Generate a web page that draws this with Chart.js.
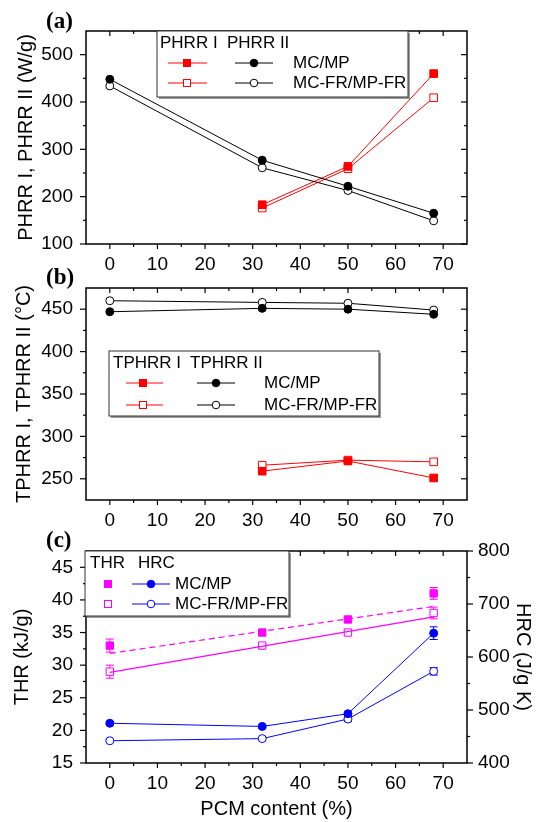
<!DOCTYPE html>
<html>
<head>
<meta charset="utf-8">
<script src="https://cdn.jsdelivr.net/npm/chart.js@4.4.1/dist/chart.umd.min.js"></script>
<style>
  body { margin: 0; background: #fff; }
  #wrap { position: relative; width: 545px; height: 822px; background: #fff; }
  canvas { position: absolute; left: 0; }
</style>
</head>
<body>
<div id="wrap">
  <canvas id="chartA" width="545" height="280" style="top:0px"></canvas>
  <canvas id="chartB" width="545" height="278" style="top:262px"></canvas>
  <canvas id="chartC" width="545" height="297" style="top:525px"></canvas>
</div>
<script>
// PCM content (%) - shared x values
var pcm = [0, 32, 50, 68];
var xTicks = [0, 10, 20, 30, 40, 50, 60, 70];

// (a) peak heat release rate (W/g)
var phrr1MC = [null, 183, 264, 460];
var phrr1FR = [null, 176, 259, 409];
var phrr2MC = [448, 277, 222, 165];
var phrr2FR = [434, 261, 213, 149];
var yTicksA = [100, 200, 300, 400, 500];

// (b) temperature at PHRR (C)
var tphrr1MC = [null, 259, 271, 251];
var tphrr1FR = [null, 266, 272, 270];
var tphrr2MC = [447, 451, 450, 444];
var tphrr2FR = [460, 458, 457, 449];
var yTicksB = [250, 300, 350, 400, 450];

// (c) THR (kJ/g) and HRC (J/g K)
var thrMC = [33, 35, 37, 41];
var thrMCErr = [1.0, 0.3, 0.3, 0.9];
var thrFR = [29, 33, 35, 38];
var thrFRErr = [1.0, 0.3, 0.3, 0.9];
var thrFitX = [0, 68];
var thrFitMC = [31.8, 39.0];
var thrFitFR = [28.9, 37.4];
var hrcMC = [475, 469, 493, 645];
var hrcMCErr = [3, 3, 3, 12];
var hrcFR = [442, 446, 483, 573];
var hrcFRErr = [2, 3, 5, 7];
var yTicksC = [15, 20, 25, 30, 35, 40, 45];
var yTicksC2 = [400, 500, 600, 700, 800];

var SANS = "'Liberation Sans', Arial, sans-serif";
var tickFont = { family: SANS, size: 19 };
var titleFont = { family: SANS, size: 20 };

function pts(xs, ys) {
    return xs.map(function(x, i) { return { x: x, y: ys[i] }; });
}
function mids(arr) {
    return arr.slice(1).map(function(v, i) { return (v + arr[i]) / 2; });
}

// box frame with Origin-style major/minor ticks
var framePlugin = {
    id: 'frame',
    afterDatasetsDraw(chart, args, o) {
        const { ctx, chartArea: a, scales } = chart;
        ctx.save();
        ctx.strokeStyle = '#000';
        function ticks(scale, vals, len, horiz, pos) {
            vals.forEach(function(v) {
                const p = scale.getPixelForValue(v);
                ctx.beginPath();
                if (horiz) { ctx.moveTo(p, pos); ctx.lineTo(p, pos + len); }
                else { ctx.moveTo(pos, p); ctx.lineTo(pos + len, p); }
                ctx.stroke();
            });
        }
        ctx.lineWidth = 1.2;
        const x = scales.x, y = scales.y;
        const xMin = mids(xTicks);
        ticks(x, xTicks, 5, true, a.bottom);
        ticks(x, xMin, 3, true, a.bottom);
        ticks(x, xTicks, 5, true, a.top);
        ticks(x, xMin, 3, true, a.top);
        ticks(y, o.yTicks, -6, false, a.left);
        ticks(y, mids(o.yTicks), -3, false, a.left);
        if (o.y2Ticks) {
            ticks(scales.y1, o.y2Ticks, 6, false, a.right);
            ticks(scales.y1, mids(o.y2Ticks), 3, false, a.right);
        } else {
            ticks(y, o.yTicks, -6, false, a.right);
            ticks(y, mids(o.yTicks), -3, false, a.right);
        }
        ctx.lineWidth = 1.5;
        ctx.strokeRect(a.left, a.top, a.right - a.left, a.bottom - a.top);
        // panel letter
        ctx.fillStyle = '#000';
        ctx.font = "bold 23px 'Liberation Serif', 'Times New Roman', serif";
        ctx.textBaseline = 'middle';
        ctx.textAlign = 'left';
        ctx.fillText(o.letter, 46, o.letterY);
        ctx.restore();
    }
};

// error bars for panel c
var errorPlugin = {
    id: 'errbars',
    beforeDatasetsDraw(chart) {
        const ctx = chart.ctx;
        ctx.save();
        chart.data.datasets.forEach(function(ds) {
            if (!ds.errors) return;
            const ys = chart.scales[ds.yAxisID], xs = chart.scales.x;
            ctx.strokeStyle = ds.borderColor;
            ctx.lineWidth = 1;
            ds.data.forEach(function(p, j) {
                const e = ds.errors[j];
                const px = xs.getPixelForValue(p.x);
                const t = ys.getPixelForValue(p.y + e), b = ys.getPixelForValue(p.y - e);
                ctx.beginPath();
                ctx.moveTo(px, t); ctx.lineTo(px, b);
                ctx.moveTo(px - 4, t); ctx.lineTo(px + 4, t);
                ctx.moveTo(px - 4, b); ctx.lineTo(px + 4, b);
                ctx.stroke();
            });
        });
        ctx.restore();
    }
};

// legend box like the figure: header row + two sample rows
function legendPlugin(L) {
    return {
        id: 'legendBox',
        afterDraw(chart) {
            const ctx = chart.ctx;
            ctx.save();
            ctx.fillStyle = '#999';
            ctx.fillRect(L.x1 + 2, L.y1 + 2, L.x2 - L.x1, L.y2 - L.y1);
            ctx.fillStyle = '#fff';
            ctx.fillRect(L.x1, L.y1, L.x2 - L.x1, L.y2 - L.y1);
            ctx.strokeStyle = '#333';
            ctx.lineWidth = 1;
            ctx.strokeRect(L.x1, L.y1, L.x2 - L.x1, L.y2 - L.y1);
            ctx.fillStyle = '#000';
            ctx.font = '17px ' + SANS;
            ctx.textBaseline = 'middle';
            ctx.textAlign = 'left';
            ctx.fillText(L.head1, L.h1x, L.rows[0]);
            ctx.fillText(L.head2, L.h2x, L.rows[0]);
            L.items.forEach(function(it, k) {
                const yy = L.rows[k + 1];
                ctx.lineWidth = 1;
                if (it.c1line) {
                    ctx.strokeStyle = it.c1;
                    ctx.beginPath(); ctx.moveTo(L.s1[0], yy); ctx.lineTo(L.s1[2], yy); ctx.stroke();
                }
                ctx.fillStyle = it.open ? '#fff' : it.c1;
                ctx.strokeStyle = it.c1;
                ctx.fillRect(L.s1[1] - 3.5, yy - 3.5, 7, 7);
                ctx.strokeRect(L.s1[1] - 3.5, yy - 3.5, 7, 7);
                ctx.strokeStyle = it.c2;
                ctx.beginPath(); ctx.moveTo(L.s2[0], yy); ctx.lineTo(L.s2[2], yy); ctx.stroke();
                ctx.fillStyle = it.open ? '#fff' : it.c2;
                ctx.beginPath(); ctx.arc(L.s2[1], yy, 3.8, 0, Math.PI * 2); ctx.fill(); ctx.stroke();
                ctx.fillStyle = '#000';
                ctx.fillText(it.label, L.tx, yy);
            });
            ctx.restore();
        }
    };
}

function lineSet(xs, ys, color, style, open, axis, radius) {
    return {
        data: pts(xs, ys),
        yAxisID: axis || 'y',
        borderColor: color,
        borderWidth: 1,
        backgroundColor: color,
        pointBackgroundColor: open ? '#fff' : color,
        pointBorderColor: color,
        pointBorderWidth: 1,
        pointStyle: style,
        pointRadius: radius || (style === 'rect' ? 5.4 : 4),
        showLine: true,
        tension: 0
    };
}

function xScale(height, showTitle) {
    return {
        type: 'linear', min: -5, max: 75,
        afterFit: function(s) { s.height = height; },
        afterBuildTicks: function(s) { s.ticks = xTicks.map(function(v) { return { value: v }; }); },
        grid: { display: false, drawTicks: false },
        border: { display: false },
        ticks: { font: tickFont, color: '#000', padding: 9, autoSkip: false, maxRotation: 0 },
        title: { display: !!showTitle, text: 'PCM content (%)', font: titleFont, color: '#000', padding: { top: 0, bottom: 1 } }
    };
}

function yScale(min, max, tickVals, title, tpad, pos, width) {
    return {
        type: 'linear', position: pos || 'left', min: min, max: max,
        afterFit: function(s) { s.width = width || 86; },
        afterBuildTicks: function(s) { s.ticks = tickVals.map(function(v) { return { value: v }; }); },
        grid: { display: false, drawTicks: false },
        border: { display: false },
        ticks: { font: tickFont, color: '#000', padding: pos === 'right' ? 11 : 13, autoSkip: false },
        title: { display: true, text: title, font: titleFont, color: '#000', padding: { top: tpad, bottom: 0 } }
    };
}

function baseOptions(pad, scales, frame) {
    return {
        responsive: false,
        animation: false,
        layout: { padding: pad },
        scales: scales,
        plugins: { legend: { display: false }, tooltip: { enabled: false }, frame: frame }
    };
}

// ---- panel (a)
new Chart(document.getElementById('chartA'), {
    type: 'line',
    data: {
        datasets: [
            lineSet(pcm, phrr2MC, '#000', 'circle', false),
            lineSet(pcm, phrr2FR, '#000', 'circle', true),
            lineSet(pcm, phrr1MC, '#ff0000', 'rect', false),
            lineSet(pcm, phrr1FR, '#ff0000', 'rect', true)
        ]
    },
    options: baseOptions({ top: 31, right: 78, left: 0, bottom: 0 }, {
        x: xScale(36),
        y: yScale(100, 550, yTicksA, 'PHRR I, PHRR II (W/g)', 14)
    }, { yTicks: yTicksA, letter: '(a)', letterY: 22 }),
    plugins: [framePlugin, legendPlugin({
        x1: 157, y1: 31, x2: 408, y2: 97,
        rows: [43, 63, 83], head1: 'PHRR I', h1x: 160, head2: 'PHRR II', h2x: 227,
        s1: [168, 187, 207], s2: [235, 254, 273], tx: 293,
        items: [
            { label: 'MC/MP', c1: '#ff0000', c2: '#000', open: false, c1line: true },
            { label: 'MC-FR/MP-FR', c1: '#ff0000', c2: '#000', open: true, c1line: true }
        ]
    })]
});

// ---- panel (b)
new Chart(document.getElementById('chartB'), {
    type: 'line',
    data: {
        datasets: [
            lineSet(pcm, tphrr2MC, '#000', 'circle', false),
            lineSet(pcm, tphrr2FR, '#000', 'circle', true),
            lineSet(pcm, tphrr1MC, '#ff0000', 'rect', false),
            lineSet(pcm, tphrr1FR, '#ff0000', 'rect', true)
        ]
    },
    options: baseOptions({ top: 26, right: 78, left: 0, bottom: 0 }, {
        x: xScale(40),
        y: yScale(225, 475, yTicksB, 'TPHRR I, TPHRR II (°C)', 12)
    }, { yTicks: yTicksB, letter: '(b)', letterY: 16 }),
    plugins: [framePlugin, legendPlugin({
        x1: 109, y1: 89, x2: 379, y2: 154,
        rows: [101, 121, 143], head1: 'TPHRR I', h1x: 113, head2: 'TPHRR II', h2x: 190,
        s1: [126, 143, 163], s2: [197, 216, 235], tx: 264,
        items: [
            { label: 'MC/MP', c1: '#ff0000', c2: '#000', open: false, c1line: true },
            { label: 'MC-FR/MP-FR', c1: '#ff0000', c2: '#000', open: true, c1line: true }
        ]
    })]
});

// ---- panel (c)
var thrSetMC = lineSet(pcm, thrMC, '#ff00ff', 'rect', false, 'y', 5.2);
thrSetMC.showLine = false; thrSetMC.errors = thrMCErr;
var thrSetFR = lineSet(pcm, thrFR, '#ff00ff', 'rect', true, 'y', 5.2);
thrSetFR.showLine = false; thrSetFR.errors = thrFRErr;
var fitMC = lineSet(thrFitX, thrFitMC, '#ff00ff', 'circle', false, 'y', 0);
fitMC.pointRadius = 0; fitMC.borderDash = [6, 4]; fitMC.borderWidth = 1.2;
var fitFR = lineSet(thrFitX, thrFitFR, '#ff00ff', 'circle', false, 'y', 0);
fitFR.pointRadius = 0; fitFR.borderWidth = 1.2;
var hrcSetMC = lineSet(pcm, hrcMC, '#0000ff', 'circle', false, 'y1');
hrcSetMC.errors = hrcMCErr;
var hrcSetFR = lineSet(pcm, hrcFR, '#0000ff', 'circle', true, 'y1');
hrcSetFR.errors = hrcFRErr;

new Chart(document.getElementById('chartC'), {
    type: 'line',
    data: { datasets: [fitMC, fitFR, hrcSetMC, hrcSetFR, thrSetMC, thrSetFR] },
    options: baseOptions({ top: 26, right: 0, left: 0, bottom: 0 }, {
        x: xScale(59, true),
        y: yScale(15, 47.5, yTicksC, 'THR (kJ/g)', 10),
        y1: yScale(400, 800, yTicksC2, 'HRC (J/g K)', 10, 'right', 78)
    }, { yTicks: yTicksC, y2Ticks: yTicksC2, letter: '(c)', letterY: 16 }),
    plugins: [errorPlugin, framePlugin, legendPlugin({
        x1: 85, y1: 26, x2: 289, y2: 91,
        rows: [38, 59, 79], head1: 'THR', h1x: 90, head2: 'HRC', h2x: 138,
        s1: [100, 108, 116], s2: [132, 151, 170], tx: 175,
        items: [
            { label: 'MC/MP', c1: '#ff00ff', c2: '#0000ff', open: false, c1line: false },
            { label: 'MC-FR/MP-FR', c1: '#ff00ff', c2: '#0000ff', open: true, c1line: false }
        ]
    })]
});
</script>
</body>
</html>
